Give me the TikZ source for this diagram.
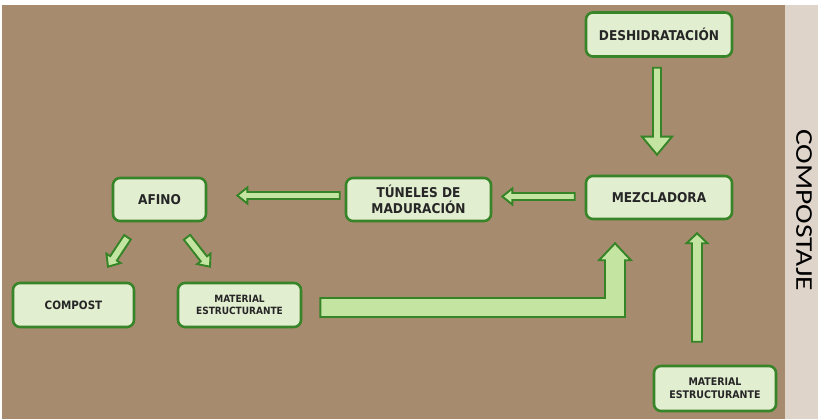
\documentclass[tikz,border=0pt]{standalone}
\usepackage{fontspec}
\usetikzlibrary{calc}
\newfontfamily\boxfont{DejaVu Sans Condensed}
\newfontfamily\sidefont{Carlito}

\definecolor{soil}{HTML}{A68B6F}
\definecolor{panel}{HTML}{DFD4C9}
\definecolor{boxfill}{HTML}{E2EED0}
\definecolor{boxline}{HTML}{378528}
\definecolor{arrowfill}{HTML}{C4E4A2}
\definecolor{arrowline}{HTML}{358426}
\definecolor{ink}{HTML}{262626}

% hollow block arrow: [style] {from} {to} {shaft half width} {head half width} {head length}
\newcommand\blockarrow[6][]{%
  \coordinate (ba-a) at (#2);
  \coordinate (ba-b) at (#3);
  \coordinate (ba-c) at ($(ba-b)!#6!(ba-a)$);
  \draw[barrow,#1]
    ($(ba-a)!#4!90:(ba-b)$) -- ($(ba-c)!#4!90:(ba-b)$) -- ($(ba-c)!#5!90:(ba-b)$)
    -- (ba-b)
    -- ($(ba-c)!#5!-90:(ba-b)$) -- ($(ba-c)!#4!-90:(ba-b)$) -- ($(ba-a)!#4!-90:(ba-b)$)
    -- cycle;}

\begin{document}
\begin{tikzpicture}[x=1pt,y=-1pt,
  stage/.style={draw=boxline, line width=2.6pt, fill=boxfill, rounded corners=7pt,
    text=ink, align=center, inner sep=0pt,
    font=\boxfont\bfseries\fontsize{13.5}{16.5}\selectfont},
  smallstage/.style={stage, font=\boxfont\bfseries\fontsize{10}{12.5}\selectfont},
  barrow/.style={draw=arrowline, line width=1.9pt, fill=arrowfill, line join=miter}]

\useasboundingbox (0,0) rectangle (818,419);
\fill[white] (0,0) rectangle (818,419);
\fill[soil] (2,5) rectangle (785,419);
\fill[panel] (785,5) rectangle (818,419);

\node[rotate=-90, text=black, font=\sidefont\fontsize{24}{24}\selectfont]
  (title) at (804,210) {\scalebox{1.23}[1]{COMPOSTAJE}};

% process stages
\node[stage, minimum width=146, minimum height=44] (desh) at (659,34.5) {DESHIDRATACIÓN};
\node[stage, minimum width=146, minimum height=43] (mezc) at (659,197.5) {MEZCLADORA};
\node[stage, minimum width=145, minimum height=43] (tun) at (418.5,199.5) {TÚNELES DE\\MADURACIÓN};
\node[stage, minimum width=93, minimum height=43] (afino) at (159.5,199.5) {AFINO};
\node[stage, minimum width=121, minimum height=44,
  font=\boxfont\bfseries\fontsize{11.5}{13}\selectfont] (compost) at (73.5,305) {COMPOST};
\node[smallstage, minimum width=123, minimum height=44] (mat1) at (239.5,305) {MATERIAL\\ESTRUCTURANTE};
\node[smallstage, minimum width=122, minimum height=45,
  font=\boxfont\bfseries\fontsize{10.5}{13}\selectfont] (mat2) at (715,388.5) {MATERIAL\\ESTRUCTURANTE};

% straight flows
\blockarrow{$(desh.south)+(-2,10)$}{$(mezc.north)+(-2,-20)$}{4pt}{15pt}{18pt}
\blockarrow{$(mezc.west)+(-10,-1)$}{$(tun.east)+(10,-3)$}{3.5pt}{8pt}{10pt}
\blockarrow{$(tun.west)+(-5,-4)$}{$(afino.east)+(30,-4)$}{3.5pt}{8pt}{10pt}
\blockarrow{$(afino.south)+(-32,15)$}{$(compost.north)+(34.5,-15)$}{4pt}{8.5pt}{10pt}
\blockarrow{$(afino.south)+(27.5,15)$}{$(mat1.north)+(-29.5,-15)$}{4pt}{8.5pt}{10pt}
\blockarrow{$(mat2.north)+(-18,-23)$}{$(mezc.south)+(38,13)$}{5pt}{10.5pt}{10pt}

% bent flow from the structuring material back to the mixer
\coordinate (lstart) at ($(mat1.east)+(18,2.5)$);
\coordinate (ltip) at ($(mezc.south)+(-44,23)$);
\draw[barrow] let \p1=(lstart), \p2=(ltip) in
  (\x1,\y1+9.5pt) -- (\x2-10pt,\y1+9.5pt) -- (\x2-10pt,\y2-17pt) -- (\x2-16pt,\y2-17pt)
  -- (\p2) -- (\x2+16pt,\y2-17pt) -- (\x2+10pt,\y2-17pt) -- (\x2+10pt,\y1-9.5pt)
  -- (\x1,\y1-9.5pt) -- cycle;
\end{tikzpicture}
\end{document}
